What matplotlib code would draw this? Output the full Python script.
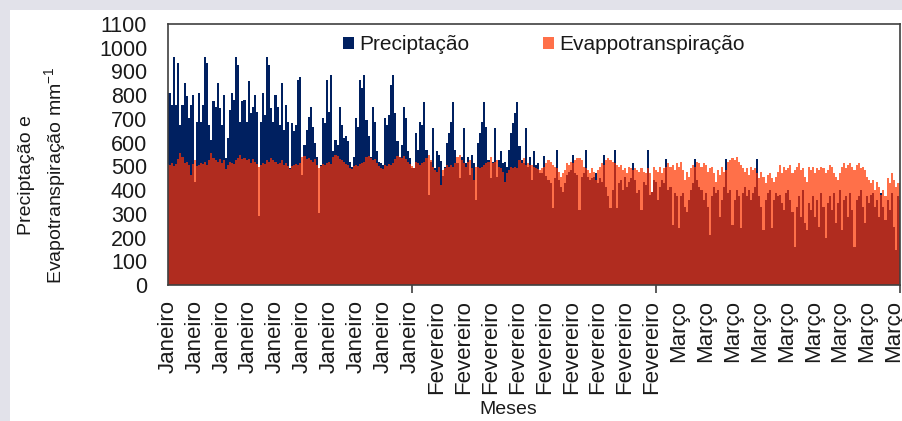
import matplotlib
matplotlib.use("Agg")
import matplotlib.pyplot as plt
from matplotlib.patches import Rectangle
import numpy as np

plt.rcParams['font.family'] = ['Liberation Sans', 'DejaVu Sans']
plt.rcParams['mathtext.fontset'] = 'custom'
plt.rcParams['mathtext.rm'] = 'Liberation Sans'
plt.rcParams['mathtext.it'] = 'Liberation Sans:italic'

# categorias do eixo x: um rótulo por mês, repetido para cada registro
meses = ['Janeiro', 'Fevereiro', 'Março']
registros_por_mes = [118, 118, 119]

# mm (um valor por barra)
precipitacao = [
    809, 809, 759, 963, 759, 935, 675, 759, 851, 795,
    703, 759, 802, 436, 689, 809, 689, 759, 963, 935,
    675, 612, 774, 752, 851, 745, 675, 802, 534, 619,
    738, 809, 781, 963, 928, 689, 774, 781, 689, 858,
    724, 752, 802, 731, 290, 689, 809, 717, 963, 928,
    745, 689, 802, 752, 675, 851, 654, 759, 689, 492,
    682, 647, 675, 865, 877, 464, 591, 654, 710, 752,
    668, 598, 541, 302, 506, 703, 682, 865, 731, 886,
    563, 612, 591, 752, 675, 619, 626, 605, 520, 499,
    541, 703, 668, 865, 830, 886, 696, 626, 541, 752,
    689, 563, 520, 513, 506, 703, 675, 717, 844, 886,
    724, 605, 541, 591, 752, 703, 563, 534, 492, 492,
    640, 570, 689, 675, 773, 570, 380, 520, 661, 492,
    563, 549, 521, 460, 499, 598, 640, 689, 773, 570,
    513, 450, 541, 661, 513, 541, 464, 549, 513, 359,
    598, 640, 689, 773, 668, 527, 450, 520, 661, 457,
    527, 563, 513, 520, 499, 570, 640, 682, 724, 773,
    584, 527, 513, 661, 499, 541, 443, 563, 506,
    513, 471, 470, 544, 460, 443, 429, 323, 450, 567,
    443, 415, 394, 429, 464, 478, 485, 549, 471, 464,
    316, 457, 471, 567, 457, 443, 450, 457, 470, 429,
    450, 436, 549, 415, 373, 323, 401, 567, 323, 429,
    443, 401, 457, 415, 436, 450, 513, 443, 387, 401,
    316, 436, 420, 567, 380, 394, 443, 436,
    359, 415, 443, 429, 530, 401, 415, 253, 387, 373,
    239, 373, 387, 330, 309, 359, 401, 429, 530, 443,
    415, 401, 359, 387, 330, 211, 373, 415, 387, 401,
    288, 359, 415, 530, 387, 401, 253, 359, 401, 373,
    239, 387, 415, 373, 401, 359, 387, 415, 530, 373,
    330, 232, 359, 387, 401, 239, 359, 387, 373,
    380, 344, 316, 387, 401, 359, 309, 162, 330, 373,
    288, 401, 260, 232, 344, 316, 373, 288, 359, 246,
    387, 330, 197, 344, 373, 316, 387, 260, 344, 401,
    232, 359, 373, 288, 387, 316, 162, 359, 373, 401,
    330, 260, 373, 344, 380, 387, 330, 359, 288, 387,
    330, 274, 359, 316, 387, 246, 148, 373, 359,
]

evapotranspiracao = [
    510, 505, 515, 500, 510, 530, 555, 540, 515, 520,
    505, 464, 510, 527, 500, 505, 515, 510, 520, 505,
    525, 555, 535, 525, 520, 530, 515, 525, 490, 505,
    520, 515, 510, 525, 535, 550, 530, 535, 525, 530,
    515, 530, 520, 510, 499, 505, 515, 510, 525, 520,
    535, 525, 520, 510, 515, 525, 505, 515, 500, 490,
    500, 505, 510, 505, 515, 541, 545, 530, 535, 525,
    520, 530, 505, 492, 500, 510, 505, 515, 520, 510,
    540, 550, 545, 530, 525, 520, 510, 505, 495, 490,
    500, 505, 500, 510, 515, 520, 540, 545, 535, 525,
    530, 515, 500, 495, 490, 505, 500, 510, 505, 515,
    530, 545, 540, 535, 545, 530, 520, 510, 500, 495,
    520, 513, 506, 513, 520, 534, 549, 527, 499, 485,
    478, 499, 422, 485, 492, 506, 499, 506, 499, 513,
    541, 548, 527, 513, 499, 520, 527, 492, 443, 499,
    499, 492, 499, 506, 513, 520, 541, 513, 520, 527,
    499, 492, 478, 436, 471, 485, 499, 492, 499, 492,
    527, 513, 534, 506, 513, 506, 506, 499, 492,
    490, 485, 492, 499, 513, 527, 520, 506, 499, 492,
    478, 457, 471, 485, 513, 506, 520, 513, 527, 534,
    534, 527, 499, 492, 485, 471, 492, 478, 443, 485,
    499, 513, 506, 527, 534, 527, 520, 513, 506, 499,
    506, 485, 492, 471, 499, 492, 485, 492, 485, 478,
    492, 478, 471, 492, 471, 394, 499, 485,
    478, 499, 471, 492, 499, 513, 499, 506, 485, 513,
    499, 520, 485, 443, 478, 457, 492, 506, 499, 520,
    513, 499, 513, 506, 478, 492, 499, 471, 436, 485,
    464, 499, 478, 485, 520, 527, 534, 527, 541, 520,
    506, 492, 478, 492, 464, 499, 485, 492, 471, 450,
    478, 457, 429, 464, 471, 450, 436, 457, 478,
    506, 471, 499, 485, 492, 506, 471, 485, 499, 513,
    485, 492, 457, 436, 499, 485, 499, 471, 492, 485,
    499, 492, 471, 485, 506, 499, 471, 457, 443, 471,
    499, 513, 492, 506, 513, 499, 485, 506, 513, 492,
    499, 485, 457, 443, 429, 443, 401, 436, 415, 380,
    401, 373, 450, 429, 471, 443, 415, 429, 429,
]

intervalo_rotulos = 13
intervalo_marcas = 118

COR_PRECIP = '#002060'
COR_EVAPO = '#FF7049'
COR_SOBREPOSICAO = '#B02C1F'
COR_TEXTO = '#1A1A1A'
COR_BORDA = '#404040'

categorias = [m for m, n in zip(meses, registros_por_mes) for _ in range(n)]
if len(categorias) != len(precipitacao) or len(precipitacao) != len(evapotranspiracao):
    raise ValueError(f"{len(categorias)} {len(precipitacao)} {len(evapotranspiracao)}")

x = np.arange(len(categorias))
p = np.array(precipitacao)
e = np.array(evapotranspiracao)

W, H = 902, 421
fig = plt.figure(figsize=(W / 100, H / 100), dpi=100, facecolor='#E2E2EA')
# painel branco do slide, atrás de tudo
fig.patches.append(Rectangle((10 / W, 0), (W - 10) / W, (H - 10) / H,
                             transform=fig.transFigure, facecolor='white',
                             edgecolor='none', zorder=-10))
ax = fig.add_axes([168 / W, (H - 285) / H, 732 / W, 261 / H])
ax.set_zorder(1)

bp = ax.bar(x, p, width=1.0, color=COR_PRECIP, linewidth=0, label='Preciptação')
be = ax.bar(x, e, width=1.0, color=COR_EVAPO, linewidth=0, label='Evappotranspiração')
# trecho comum às duas séries
ax.bar(x, np.minimum(p, e), width=1.0, color=COR_SOBREPOSICAO, linewidth=0)

ax.set_xlim(0, len(x) - 1)
ax.set_ylim(0, 1100)
ax.set_yticks(range(0, 1101, 100))
ax.tick_params(axis='y', length=0, pad=15, labelsize=15.5, labelcolor=COR_TEXTO)

pos_rotulos = x[::intervalo_rotulos]
ax.set_xticks(pos_rotulos)
ax.set_xticklabels([categorias[i] for i in pos_rotulos], rotation=90)
ax.tick_params(axis='x', which='major', length=0, pad=11, labelsize=16,
               labelcolor=COR_TEXTO)
ax.set_xticks(x[::intervalo_marcas], minor=True)
ax.tick_params(axis='x', which='minor', length=6, width=1.2, color=COR_BORDA)

for s in ax.spines.values():
    s.set_color(COR_BORDA)
    s.set_linewidth(1.2)

ax.legend(handles=[bp, be], loc='center left', bbox_to_anchor=(343 / W, 1 - 45 / H),
          bbox_transform=fig.transFigure, ncol=2, frameon=False, fontsize=15,
          handlelength=0.55, handleheight=0.55, handletextpad=0.25,
          columnspacing=3.5, borderpad=0, borderaxespad=0, labelcolor=COR_TEXTO)

fig.text(508 / W, 1 - 401 / H, 'Meses', ha='center', va='top', fontsize=14,
         color=COR_TEXTO)
fig.text(43 / W, 1 - 175 / H, 'Preciptação e\nEvapotranspiração mm$^{-1}$',
         rotation=90, ha='center', va='center', multialignment='center',
         fontsize=14, linespacing=1.35, color=COR_TEXTO)

fig.savefig('out.png', dpi=100, facecolor=fig.get_facecolor())
